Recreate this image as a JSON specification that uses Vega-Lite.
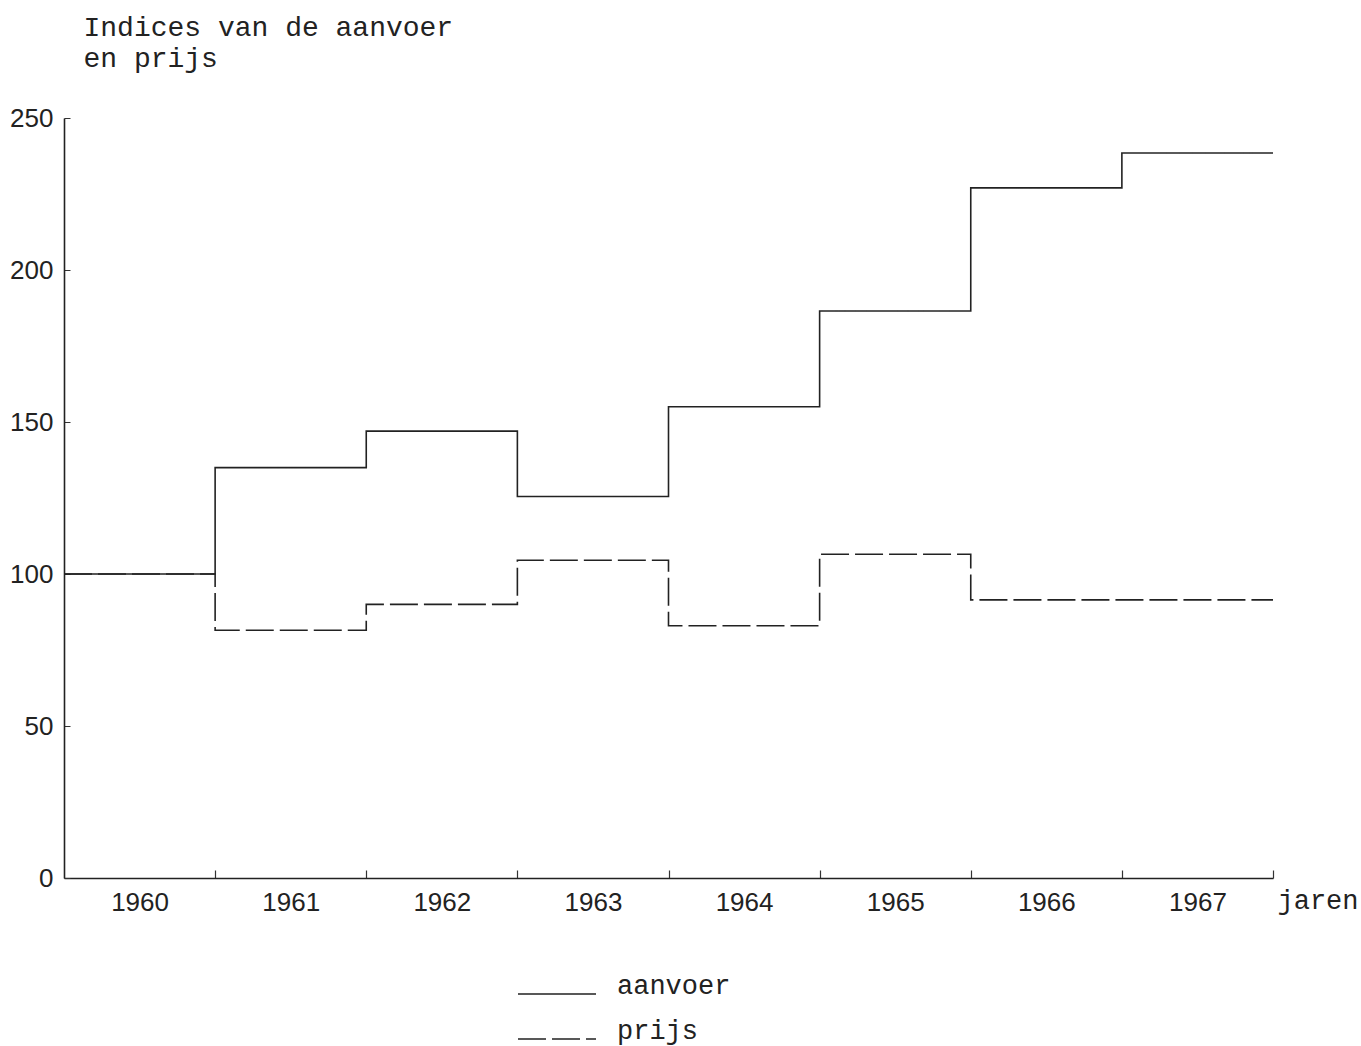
{
  "$schema": "https://vega.github.io/schema/vega-lite/v6.json",
  "width": 1209,
  "height": 760,
  "autosize": {"type": "none"},
  "padding": {"left": 64, "top": 118, "right": 88, "bottom": 168},
  "background": "white",
  "config": {"view": {"stroke": null}, "font": "Liberation Sans"},
  "data": {
    "values": [
      {"jaar": 1960, "index": 100, "reeks": "aanvoer"},
      {"jaar": 1961, "index": 135, "reeks": "aanvoer"},
      {"jaar": 1962, "index": 147, "reeks": "aanvoer"},
      {"jaar": 1963, "index": 125.5, "reeks": "aanvoer"},
      {"jaar": 1964, "index": 155, "reeks": "aanvoer"},
      {"jaar": 1965, "index": 186.5, "reeks": "aanvoer"},
      {"jaar": 1966, "index": 227, "reeks": "aanvoer"},
      {"jaar": 1967, "index": 238.5, "reeks": "aanvoer"},
      {"jaar": 1968, "index": 238.5, "reeks": "aanvoer"},
      {"jaar": 1960, "index": 100, "reeks": "prijs"},
      {"jaar": 1961, "index": 81.5, "reeks": "prijs"},
      {"jaar": 1962, "index": 90, "reeks": "prijs"},
      {"jaar": 1963, "index": 104.5, "reeks": "prijs"},
      {"jaar": 1964, "index": 83, "reeks": "prijs"},
      {"jaar": 1965, "index": 106.5, "reeks": "prijs"},
      {"jaar": 1966, "index": 91.5, "reeks": "prijs"},
      {"jaar": 1967, "index": 91.5, "reeks": "prijs"},
      {"jaar": 1968, "index": 91.5, "reeks": "prijs"}
    ]
  },
  "mark": {"type": "line", "interpolate": "step-after", "color": "#222", "strokeWidth": 1.6},
  "encoding": {
    "x": {
      "field": "jaar",
      "type": "quantitative",
      "scale": {"domain": [1960, 1968], "nice": false, "zero": false},
      "axis": {
        "values": [1960.5, 1961.5, 1962.5, 1963.5, 1964.5, 1965.5, 1966.5, 1967.5, 1961, 1962, 1963, 1964, 1965, 1966, 1967, 1968],
        "labelExpr": "datum.value % 1 == 0.5 ? '' + floor(datum.value) : ''",
        "labelOverlap": false,
        "labelFont": "Liberation Sans",
        "labelFontSize": 26,
        "labelColor": "#222",
        "labelPadding": 19,
        "labelBaseline": "top",
        "tickSize": -8,
        "tickColor": "#333",
        "tickWidth": 1.2,
        "tickOpacity": {"condition": {"test": "datum.value % 1 != 0", "value": 0}, "value": 1},
        "domainColor": "#222",
        "domainWidth": 1.6,
        "grid": false,
        "title": "jaren",
        "titleFont": "Liberation Mono",
        "titleFontSize": 27,
        "titleFontWeight": "normal",
        "titleColor": "#222",
        "titleAngle": 0,
        "titleAlign": "left",
        "titleBaseline": "middle",
        "titleX": 1213,
        "titleY": 22
      }
    },
    "y": {
      "field": "index",
      "type": "quantitative",
      "scale": {"domain": [0, 250], "nice": false},
      "axis": {
        "values": [0, 50, 100, 150, 200, 250],
        "labelFont": "Liberation Sans",
        "labelFontSize": 26,
        "labelColor": "#222",
        "labelPadding": 17,
        "tickSize": -6,
        "tickColor": "#333",
        "domainColor": "#222",
        "domainWidth": 1.6,
        "grid": false,
        "title": ["Indices van de aanvoer", "en prijs"],
        "titleFont": "Liberation Mono",
        "titleFontSize": 28,
        "titleFontWeight": "normal",
        "titleColor": "#222",
        "titleAngle": 0,
        "titleAlign": "left",
        "titleBaseline": "alphabetic",
        "titleLineHeight": 31,
        "titleX": 19,
        "titleY": -83
      }
    },
    "strokeDash": {
      "field": "reeks",
      "type": "nominal",
      "scale": {"domain": ["aanvoer", "prijs"], "range": [[1, 0], [28, 6]]},
      "legend": {
        "orient": "none",
        "legendX": 453,
        "legendY": 836,
        "title": null,
        "symbolType": "stroke",
        "symbolSize": 6084,
        "symbolStrokeWidth": 1.6,
        "symbolStrokeColor": "#222",
        "labelFont": "Liberation Mono",
        "labelFontSize": 27,
        "labelColor": "#222",
        "labelBaseline": "alphabetic",
        "labelOffset": 20,
        "rowPadding": -30
      }
    }
  }
}
